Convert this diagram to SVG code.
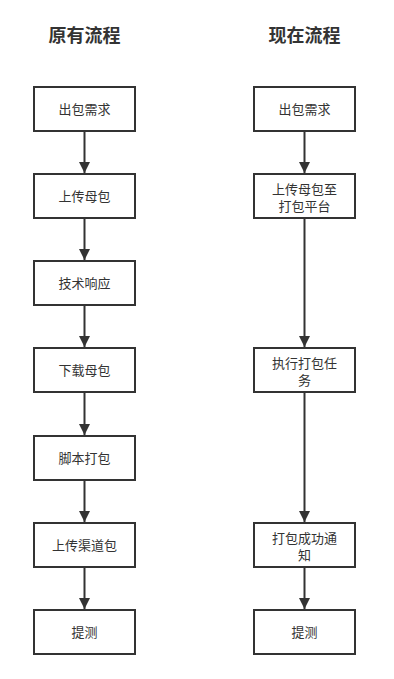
<svg xmlns="http://www.w3.org/2000/svg" width="394" height="679" viewBox="0 0 394 679">
<style>
.title{font-family:"Noto Sans CJK SC","Liberation Sans",sans-serif;font-size:18px;font-weight:bold;fill:#333;text-anchor:middle}
.box{fill:#fff;stroke:#333;stroke-width:2}
.lbl{font-family:"Noto Sans CJK SC","Liberation Sans",sans-serif;font-size:13px;fill:#333;text-anchor:middle}
.edge{stroke:#333;stroke-width:2;fill:none}
</style>
<defs>
<marker id="arr" markerUnits="userSpaceOnUse" markerWidth="12" markerHeight="12" refX="11" refY="6" orient="auto">
<path d="M0,0.5 L11,6 L0,11.5 Z" fill="#333"/>
</marker>
</defs>
<rect width="394" height="679" fill="#fff"/>
<text class="title" x="84.5" y="42">原有流程</text>
<text class="title" x="304.5" y="42">现在流程</text>
<g id="connectors">
<line class="edge" x1="84.5" y1="132" x2="84.5" y2="173" marker-end="url(#arr)"/>
<line class="edge" x1="84.5" y1="219" x2="84.5" y2="260" marker-end="url(#arr)"/>
<line class="edge" x1="84.5" y1="306" x2="84.5" y2="347" marker-end="url(#arr)"/>
<line class="edge" x1="84.5" y1="393" x2="84.5" y2="435" marker-end="url(#arr)"/>
<line class="edge" x1="84.5" y1="481" x2="84.5" y2="522" marker-end="url(#arr)"/>
<line class="edge" x1="84.5" y1="568" x2="84.5" y2="609" marker-end="url(#arr)"/>
<line class="edge" x1="304.5" y1="132" x2="304.5" y2="173" marker-end="url(#arr)"/>
<line class="edge" x1="304.5" y1="219" x2="304.5" y2="347" marker-end="url(#arr)"/>
<line class="edge" x1="304.5" y1="393" x2="304.5" y2="522" marker-end="url(#arr)"/>
<line class="edge" x1="304.5" y1="568" x2="304.5" y2="609" marker-end="url(#arr)"/>
</g>
<g id="l1"><rect class="box" x="34" y="87" width="101" height="44"/><text class="lbl" x="84.5" y="114">出包需求</text></g>
<g id="l2"><rect class="box" x="34" y="174" width="101" height="44"/><text class="lbl" x="84.5" y="201">上传母包</text></g>
<g id="l3"><rect class="box" x="34" y="261" width="101" height="44"/><text class="lbl" x="84.5" y="288">技术响应</text></g>
<g id="l4"><rect class="box" x="34" y="348" width="101" height="44"/><text class="lbl" x="84.5" y="375">下载母包</text></g>
<g id="l5"><rect class="box" x="34" y="436" width="101" height="44"/><text class="lbl" x="84.5" y="463">脚本打包</text></g>
<g id="l6"><rect class="box" x="34" y="523" width="101" height="44"/><text class="lbl" x="84.5" y="550">上传渠道包</text></g>
<g id="l7"><rect class="box" x="34" y="610" width="101" height="44"/><text class="lbl" x="84.5" y="637">提测</text></g>
<g id="r1"><rect class="box" x="254" y="87" width="101" height="44"/><text class="lbl" x="304.5" y="114">出包需求</text></g>
<g id="r2"><rect class="box" x="254" y="174" width="101" height="44"/><text class="lbl" x="304.5" y="194">上传母包至</text><text class="lbl" x="304.5" y="211">打包平台</text></g>
<g id="r3"><rect class="box" x="254" y="348" width="101" height="44"/><text class="lbl" x="304.5" y="368">执行打包任</text><text class="lbl" x="304.5" y="385">务</text></g>
<g id="r4"><rect class="box" x="254" y="523" width="101" height="44"/><text class="lbl" x="304.5" y="543">打包成功通</text><text class="lbl" x="304.5" y="560">知</text></g>
<g id="r5"><rect class="box" x="254" y="610" width="101" height="44"/><text class="lbl" x="304.5" y="637">提测</text></g>
</svg>
